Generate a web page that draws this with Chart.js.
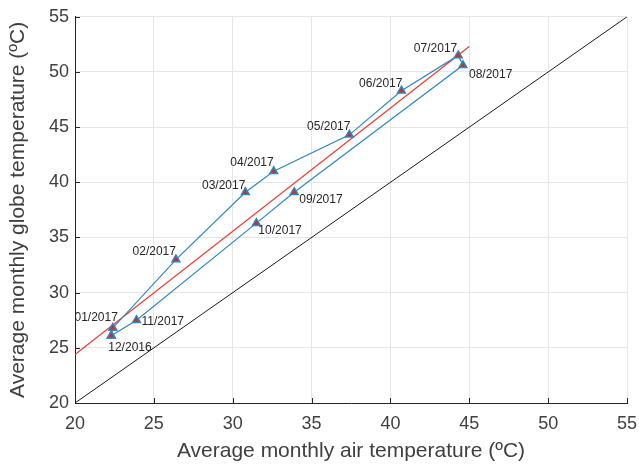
<!DOCTYPE html>
<html>
<head>
<meta charset="utf-8">
<script src="https://cdn.jsdelivr.net/npm/chart.js@4"></script>
<style>
  html, body { margin: 0; padding: 0; background: #fff; }
  #wrap { width: 639px; height: 468px; }
</style>
</head>
<body>
<div id="wrap"><canvas id="grafico" width="639" height="468"></canvas></div>
<script>
// dados (ordem do percurso, fechando em 12/2016)
const meses = ["12/2016", "01/2017", "02/2017", "03/2017", "04/2017", "05/2017", "06/2017",
               "07/2017", "08/2017", "09/2017", "10/2017", "11/2017"];
const tempAr = [22.3, 22.4, 26.4, 30.8, 32.6, 37.4, 40.7, 44.3, 44.6, 33.9, 31.5, 23.9];
const tempGlobo = [26.1, 26.8, 33.0, 39.1, 41.0, 44.3, 48.3, 51.5, 50.6, 39.1, 36.3, 27.5];

// reta de regressão (vermelha) e reta 1:1 (preta)
const regX = [20, 45];
const regY = [24.4, 52.3];
const idX = [20, 55];
const idY = [20, 55];

const ticksEixo = [20, 25, 30, 35, 40, 45, 50, 55];

const corTexto = "#404040";
const fonte = "'Liberation Sans', Arial, Helvetica, sans-serif";

// posição dos rótulos de cada mês (alinhamento + deslocamento em px)
const posRotulo = {
  "12/2016": ["left", "top", -3, 6],
  "01/2017": ["right", "bottom", 5, -4],
  "02/2017": ["right", "bottom", 0, -2],
  "03/2017": ["right", "bottom", 0, -1],
  "04/2017": ["right", "bottom", 0, -3],
  "05/2017": ["right", "bottom", 1, -2],
  "06/2017": ["right", "bottom", 1, -1],
  "07/2017": ["right", "bottom", -1, -1],
  "08/2017": ["left", "top", 6, 3],
  "09/2017": ["left", "top", 5, 1],
  "10/2017": ["left", "top", 2, 2],
  "11/2017": ["left", "middle", 5, 1]
};

const pontos = meses.map((m, i) => ({ x: tempAr[i], y: tempGlobo[i] }));
pontos.push({ x: tempAr[0], y: tempGlobo[0] });

const rotulosPlugin = {
  id: "rotulos",
  afterDatasetsDraw(chart) {
    const c = chart.ctx;
    const sx = chart.scales.x, sy = chart.scales.y;
    const area = chart.chartArea;
    // ticks para dentro
    c.save();
    c.strokeStyle = "#262626";
    c.lineWidth = 1;
    ticksEixo.forEach(v => {
      const px = Math.round(sx.getPixelForValue(v)) + 0.5;
      c.beginPath(); c.moveTo(px, area.bottom); c.lineTo(px, area.bottom - 5); c.stroke();
      const py = Math.round(sy.getPixelForValue(v)) + 0.5;
      c.beginPath(); c.moveTo(area.left, py); c.lineTo(area.left + 5, py); c.stroke();
    });
    // rótulos dos meses
    c.font = "12px " + fonte;
    c.fillStyle = "#262626";
    meses.forEach((m, i) => {
      const p = posRotulo[m];
      c.textAlign = p[0];
      c.textBaseline = p[1];
      c.fillText(m, sx.getPixelForValue(tempAr[i]) + p[2], sy.getPixelForValue(tempGlobo[i]) + p[3]);
    });
    c.restore();
  }
};

const ctx = document.getElementById("grafico").getContext("2d");
new Chart(ctx, {
  type: "scatter",
  data: {
    datasets: [
      {
        label: "meses",
        data: pontos,
        showLine: true,
        borderColor: "#2e86c1",
        borderWidth: 1.2,
        pointStyle: "triangle",
        pointRadius: 4.5,
        pointBackgroundColor: "#c9302c",
        pointBorderColor: "#2e86c1",
        pointBorderWidth: 1.5,
        order: 0
      },
      {
        label: "regressao",
        data: regX.map((x, i) => ({ x, y: regY[i] })),
        showLine: true,
        borderColor: "#ee3a32",
        borderWidth: 1.2,
        pointRadius: 0,
        order: 1
      },
      {
        label: "1:1",
        data: idX.map((x, i) => ({ x, y: idY[i] })),
        showLine: true,
        borderColor: "#1a1a1a",
        borderWidth: 1,
        pointRadius: 0,
        order: 2
      }
    ]
  },
  options: {
    responsive: false,
    animation: false,
    layout: { padding: { top: 14, right: 12, left: 0, bottom: 0 } },
    plugins: {
      legend: { display: false },
      tooltip: { enabled: false }
    },
    scales: {
      x: {
        type: "linear",
        min: 20, max: 55,
        afterBuildTicks: s => { s.ticks = ticksEixo.map(v => ({ value: v })); },
        afterFit: s => { s.height = 65; s.paddingRight = 0; s.paddingLeft = 0; },
        grid: { color: "#e6e6e6", drawTicks: false },
        border: { color: "#262626" },
        ticks: { color: corTexto, font: { family: fonte, size: 18 }, padding: 10, maxRotation: 0 },
        title: {
          display: true,
          text: "Average monthly air temperature (ºC)",
          color: corTexto,
          font: { family: fonte, size: 21 },
          padding: { top: 4, bottom: 4 }
        }
      },
      y: {
        type: "linear",
        min: 20, max: 55,
        afterBuildTicks: s => { s.ticks = ticksEixo.map(v => ({ value: v })); },
        afterFit: s => { s.width = 75; },
        grid: { color: "#e6e6e6", drawTicks: false },
        border: { color: "#262626" },
        ticks: { color: corTexto, font: { family: fonte, size: 18 }, padding: 6 },
        title: {
          display: true,
          text: "Average monthly globe temperature (ºC)",
          color: corTexto,
          font: { family: fonte, size: 21 },
          padding: { bottom: 0, top: 6 }
        }
      }
    }
  },
  plugins: [rotulosPlugin]
});
</script>
</body>
</html>
